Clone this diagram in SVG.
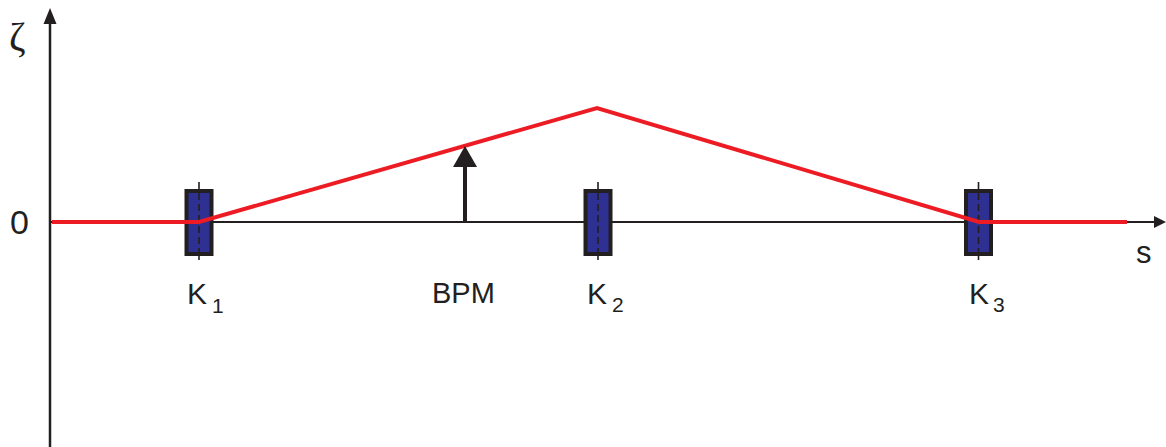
<svg xmlns="http://www.w3.org/2000/svg" width="1166" height="447" viewBox="0 0 1166 447">
<style>
.t{font-family:"Liberation Sans",Arial,sans-serif;fill:#231f20}
.mag{fill:#2e3192;stroke:#231f20;stroke-width:4}
.cl{stroke:#231f20;stroke-width:1.6;fill:none}
.dash{stroke:#231f20;stroke-width:1.6;stroke-dasharray:7 4;fill:none}
</style>
<rect width="1166" height="447" fill="#fff"/>
<g id="axes">
<line x1="50" y1="447" x2="50" y2="20" stroke="#231f20" stroke-width="2.5"/>
<polygon points="50,8 43.5,24 56.5,24" fill="#231f20"/>
<line x1="50" y1="222" x2="1156" y2="222" stroke="#231f20" stroke-width="1.8"/>
<polygon points="1166,222 1154,216 1154,228" fill="#231f20"/>
<text class="t" x="10" y="234" font-size="34">0</text>
<text x="9" y="50" font-size="40" font-family="'Liberation Serif','DejaVu Serif',serif" fill="#231f20">ζ</text>
<text class="t" x="1136" y="263" font-size="31">s</text>
</g>
<g id="K1">
<line class="cl" x1="199" y1="182" x2="199" y2="260"/>
<rect class="mag" x="186.5" y="191" width="25" height="63"/>
<line class="dash" x1="199" y1="193" x2="199" y2="252"/>
<text class="t" x="187" y="304" font-size="30">K<tspan x="212" y="313" font-size="21">1</tspan></text>
</g>
<g id="K2">
<line class="cl" x1="598" y1="182" x2="598" y2="260"/>
<rect class="mag" x="585.5" y="191" width="25" height="63"/>
<line class="dash" x1="598" y1="193" x2="598" y2="252"/>
<text class="t" x="587" y="304" font-size="30">K<tspan x="612" y="312" font-size="21">2</tspan></text>
</g>
<g id="K3">
<line class="cl" x1="978.5" y1="182" x2="978.5" y2="260"/>
<rect class="mag" x="966" y="191" width="25" height="63"/>
<line class="dash" x1="978.5" y1="193" x2="978.5" y2="252"/>
<text class="t" x="969" y="304" font-size="30">K<tspan x="993" y="312" font-size="21">3</tspan></text>
</g>
<g id="connectors">
<polyline points="52,222 199,222 597,108 979,222 1127,222" fill="none" stroke="#ed1c24" stroke-width="4" stroke-linejoin="miter"/>
</g>
<g id="BPM">
<line x1="465" y1="222" x2="465" y2="164" stroke="#231f20" stroke-width="4"/>
<polygon points="465,146 453,167 477,167" fill="#231f20"/>
<text class="t" x="432" y="303" font-size="29">BPM</text>
</g>
</svg>
